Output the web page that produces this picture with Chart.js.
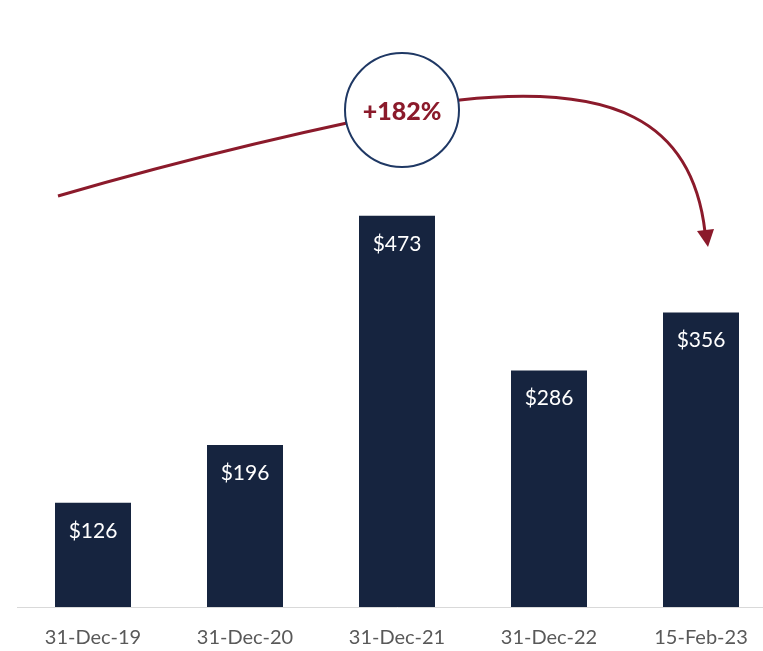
<!DOCTYPE html>
<html>
<head>
<meta charset="utf-8">
<script src="https://cdn.jsdelivr.net/npm/chart.js@4/dist/chart.umd.min.js"></script>
<style>
  html, body { margin: 0; padding: 0; background: #fff; overflow: hidden; }
  #wrap { width: 777px; height: 651px; }
</style>
</head>
<body>
<div id="wrap"><canvas id="chart" width="777" height="651"></canvas></div>
<script>
const categories = ["31-Dec-19", "31-Dec-20", "31-Dec-21", "31-Dec-22", "15-Feb-23"];
const values = [126, 196, 473, 286, 356];
const growthLabel = "+182%";

const barColor = "#16243f";
const arrowColor = "#8b1a2b";
const circleColor = "#1f3864";

// white value labels near the top of each bar
const barLabels = {
  id: "barLabels",
  afterDatasetsDraw(chart) {
    const ctx = chart.ctx;
    const meta = chart.getDatasetMeta(0);
    ctx.save();
    ctx.fillStyle = "#ffffff";
    ctx.font = "21px Lato";
    ctx.textAlign = "center";
    ctx.textBaseline = "middle";
    meta.data.forEach((bar, i) => {
      ctx.fillText("$" + values[i], bar.x, bar.y + 28);
    });
    ctx.restore();
  }
};

// growth arrow with the circled percentage
const growthArrow = {
  id: "growthArrow",
  afterDraw(chart) {
    const ctx = chart.ctx;
    ctx.save();
    ctx.strokeStyle = arrowColor;
    ctx.lineWidth = 3;
    ctx.beginPath();
    ctx.moveTo(58, 196);
    ctx.quadraticCurveTo(250, 140, 460, 100);
    ctx.bezierCurveTo(610, 84, 692, 118, 705, 232);
    ctx.stroke();

    // arrow head
    ctx.fillStyle = arrowColor;
    ctx.beginPath();
    ctx.moveTo(708, 247);
    ctx.lineTo(697, 231);
    ctx.lineTo(714, 229);
    ctx.closePath();
    ctx.fill();

    // circle
    ctx.beginPath();
    ctx.arc(402, 110, 57, 0, Math.PI * 2);
    ctx.fillStyle = "#ffffff";
    ctx.fill();
    ctx.lineWidth = 2;
    ctx.strokeStyle = circleColor;
    ctx.stroke();

    ctx.fillStyle = arrowColor;
    ctx.font = "900 25px Lato";
    ctx.textAlign = "center";
    ctx.textBaseline = "middle";
    ctx.fillText(growthLabel, 402, 112);
    ctx.restore();
  }
};

new Chart(document.getElementById("chart"), {
  type: "bar",
  data: {
    labels: categories,
    datasets: [{
      data: values,
      backgroundColor: barColor,
      barPercentage: 0.5,
      categoryPercentage: 1
    }]
  },
  options: {
    responsive: false,
    animation: false,
    layout: { padding: { left: 17, right: 0, top: 0, bottom: 0 } },
    plugins: {
      legend: { display: false },
      tooltip: { enabled: false }
    },
    scales: {
      x: {
        grid: { display: false, drawTicks: false },
        border: { display: true, color: "#d9d9d9", width: 1 },
        ticks: {
          color: "#595959",
          font: { family: "Lato", size: 20 },
          padding: 19,
          maxRotation: 0
        },
        afterFit(scale) { scale.height = 44; }
      },
      y: {
        display: false,
        min: 0,
        max: 734
      }
    }
  },
  plugins: [barLabels, growthArrow]
});
</script>
</body>
</html>
